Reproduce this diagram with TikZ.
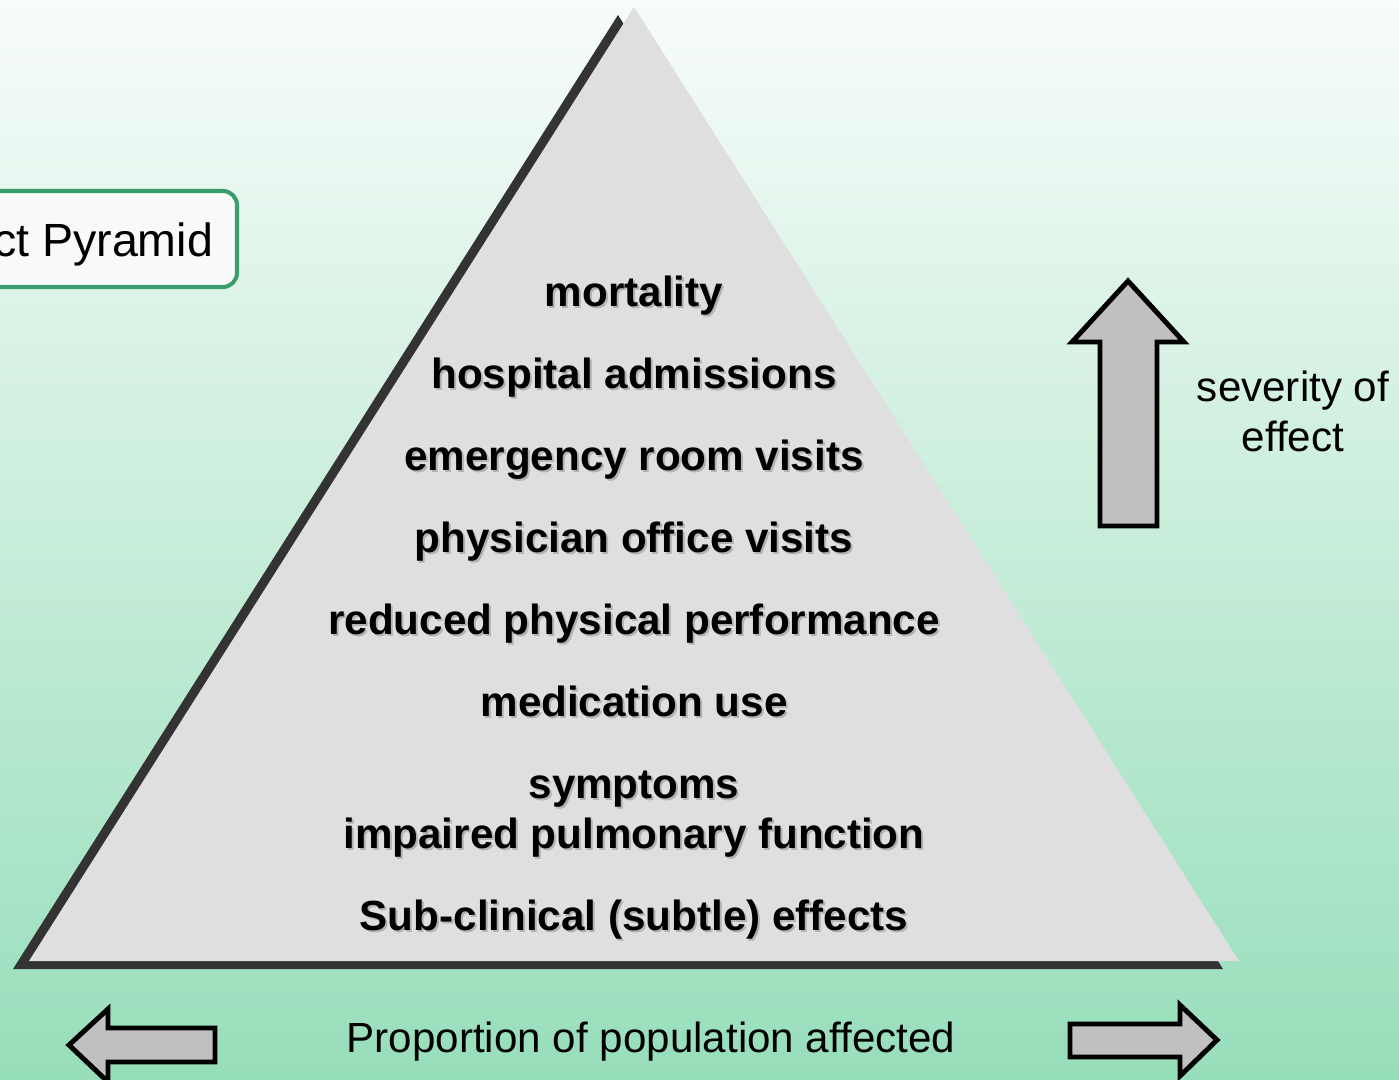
\documentclass[tikz,border=0pt]{standalone}
\usepackage{fontspec}
\setmainfont{Liberation Sans}
\usepackage{xcolor}
\usetikzlibrary{positioning}

\definecolor{fundoTopo}{HTML}{F8FCFA}
\definecolor{fundoBase}{HTML}{97DEBA}
\definecolor{piramide}{HTML}{DFDFDF}
\definecolor{sombraEscura}{HTML}{333333}
\definecolor{setaCinza}{HTML}{C0C0C0}
\definecolor{bordaVerde}{HTML}{3A9E6C}

\tikzset{
  nivel/.style={font=\fontsize{24}{28.5}\selectfont\bfseries, anchor=base},
  sombratexto/.style={nivel, text=black!30},
  legenda/.style={font=\fontsize{24}{28.5}\selectfont, anchor=base},
  seta/.style={draw=black, line width=2.8pt, fill=setaCinza, line join=miter},
}

\begin{document}
\begin{tikzpicture}[x=0.02cm, y=-0.02cm]

% Fundo em degradê
\clip (0,0) rectangle (1399,1079);
\shade[top color=fundoTopo, bottom color=fundoBase] (0,0) rectangle (1399,1079);

% Caixa do título
\node[draw=bordaVerde, line width=2.3pt, fill=gray!5, rounded corners=8pt,
      anchor=east, minimum height=1.92cm, inner xsep=0.48cm,
      text height=20pt, text depth=0.5pt,
      font=\fontsize{26.5}{31}\selectfont] (titulo) at (239,239) {Effect Pyramid};

% Sombra da pirâmide
\fill[sombraEscura] (618,15) -- (1223,969) -- (13,969) -- cycle;

% Pirâmide
\fill[piramide] (634,7) -- (1239,961) -- (29,961) -- cycle;

% Níveis de efeito (com sombra no texto)
\foreach \y/\txt [count=\i] in {306/mortality, 388/hospital admissions,
    470/emergency room visits, 552/physician office visits,
    634/reduced physical performance, 716/medication use,
    798/symptoms, 848/impaired pulmonary function,
    930/Sub-clinical (subtle) effects}{
  \node[sombratexto] (sombra\i) at (636,\y+2.5) {\txt};
  \node[nivel] (nivel\i) at (634,\y) {\txt};
}

% Seta da severidade
\draw[seta] (1128,281) -- (1184,342) -- (1157,342) -- (1157,526) -- (1100,526)
  -- (1100,342) -- (1072,342) -- cycle;
\node[legenda] (severidade) at (1293,401) {severity of};
\node[legenda] (efeito) at (1293,451) {effect};

% Setas da proporção
\draw[seta] (69,1045) -- (108,1009) -- (108,1028) -- (215,1028) -- (215,1062)
  -- (108,1062) -- (108,1082) -- cycle;
\draw[seta] (1217,1040) -- (1180,1005) -- (1180,1024) -- (1070,1024) -- (1070,1057)
  -- (1180,1057) -- (1180,1076) -- cycle;
\node[legenda] (proporcao) at (651,1052) {Proportion of population affected};

\end{tikzpicture}
\end{document}
